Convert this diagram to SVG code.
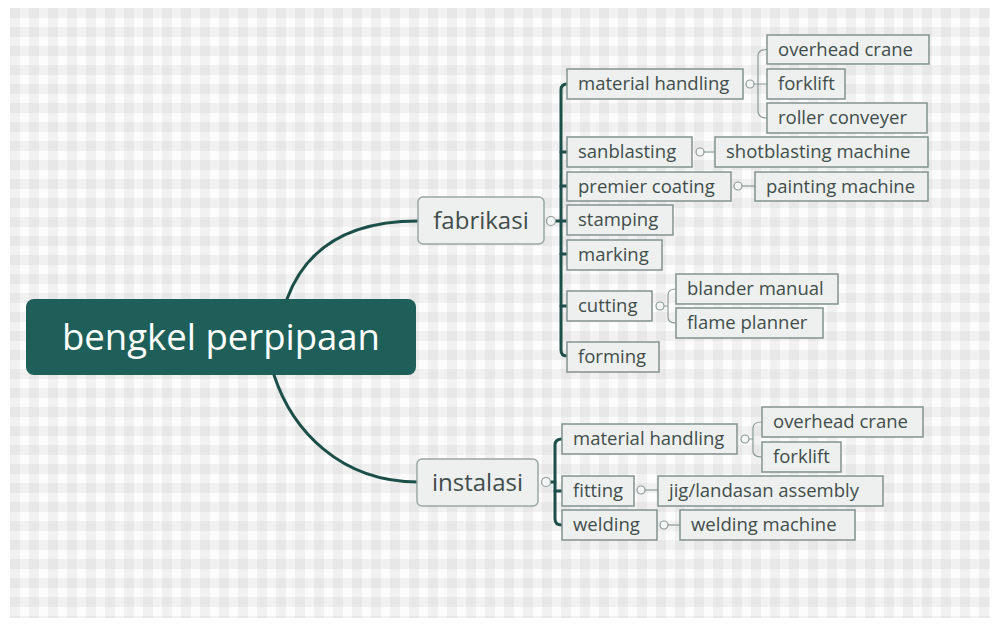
<svg xmlns="http://www.w3.org/2000/svg" width="998" height="625" viewBox="0 0 998 625">
<defs>
<pattern id="grid" x="10" y="8" width="19" height="19" patternUnits="userSpaceOnUse">
<rect width="19" height="19" fill="#fcfcfc"/>
<rect x="0" y="0" width="10" height="19" fill="#000" fill-opacity="0.045"/>
<rect x="0" y="0" width="19" height="10" fill="#000" fill-opacity="0.045"/>
</pattern>
<style>
.t{font-family:"Open Sans",Lato,"DejaVu Sans",sans-serif;fill:#414d4b;}
.c{font-size:18.5px;transform:translateY(-1.5px);}
.m{font-size:24px;transform:translateY(-1px);}
.box{fill:#eef0ef;stroke:#83928f;stroke-width:1.5;}
.mbox{fill:#eef0ef;stroke:#9aa7a4;stroke-width:1.5;}
.main{fill:none;stroke:#1d4f49;stroke-width:3;stroke-linecap:round;}
.thin{fill:none;stroke:#8d9b98;stroke-width:1.2;}
.dot{fill:#f4f5f5;stroke:#8d9b98;stroke-width:1.2;}
</style>
</defs>
<rect x="10" y="8" width="980" height="610" fill="url(#grid)"/>

<g id="connectors">
<path class="main" d="M287,299 C305,250 345,221 418,221"/>
<path class="main" d="M274,375 C292,430 340,482 418,482"/>
<path class="main" d="M567,84 Q561,84 561,90 L561,350 Q561,356 567,356"/>
<path class="main" d="M556,221 H567 M561,152 H567 M561,186 H567 M561,254 H567 M561,306 H567"/>
<path class="thin" d="M767,49.5 Q758,49.5 758,56 L758,111 Q758,118 767,118 M754,84 H767"/>
<path class="thin" d="M704,152 H715"/>
<path class="thin" d="M742,186 H755"/>
<path class="thin" d="M676,289 Q668,289 668,295 L668,317 Q668,323 676,323 M664,306 H668"/>
<path class="main" d="M562,439 Q555,439 555,445 L555,519 Q555,525 562,525"/>
<path class="main" d="M550,482 H555 M555,491 H562"/>
<path class="thin" d="M762,422 Q753,422 753,428 L753,451 Q753,457 762,457 M749,439 H753"/>
<path class="thin" d="M645,490 H658"/>
<path class="thin" d="M668,525 H680"/>
<circle class="dot" cx="551" cy="221" r="4.5"/>
<circle class="dot" cx="750" cy="84" r="4"/>
<circle class="dot" cx="700" cy="152" r="4"/>
<circle class="dot" cx="738" cy="186" r="4"/>
<circle class="dot" cx="660" cy="306" r="4"/>
<circle class="dot" cx="546" cy="482" r="4.5"/>
<circle class="dot" cx="745" cy="439" r="4"/>
<circle class="dot" cx="641" cy="490" r="4"/>
<circle class="dot" cx="664" cy="525" r="4"/>
</g>

<g id="root">
<rect x="26" y="299" width="390" height="76" rx="8" fill="#1f5f59"/>
<text x="221" y="335.5" text-anchor="middle" dominant-baseline="central" font-family="'Open Sans',Lato,sans-serif" font-size="36.5" fill="#ffffff">bengkel perpipaan</text>
</g>

<g id="fabrikasi">
<rect class="mbox" x="418" y="197" width="126" height="47" rx="5"/>
<text class="t m" x="481" y="220.5" text-anchor="middle" dominant-baseline="central">fabrikasi</text>
</g>
<g id="instalasi">
<rect class="mbox" x="417" y="459" width="121" height="47" rx="5"/>
<text class="t m" x="477.5" y="482.5" text-anchor="middle" dominant-baseline="central">instalasi</text>
</g>

<g id="f-material-handling"><rect class="box" x="567" y="69" width="176" height="30"/><text class="t c" x="578" y="84" dominant-baseline="central">material handling</text></g>
<g id="f-overhead-crane"><rect class="box" x="767" y="35" width="162" height="29"/><text class="t c" x="778" y="49.5" dominant-baseline="central">overhead crane</text></g>
<g id="f-forklift"><rect class="box" x="767" y="69" width="78" height="30"/><text class="t c" x="778" y="84" dominant-baseline="central">forklift</text></g>
<g id="f-roller-conveyer"><rect class="box" x="767" y="103" width="160" height="30"/><text class="t c" x="778" y="118" dominant-baseline="central">roller conveyer</text></g>
<g id="f-sanblasting"><rect class="box" x="567" y="137" width="125" height="30"/><text class="t c" x="578" y="152" dominant-baseline="central">sanblasting</text></g>
<g id="f-shotblasting"><rect class="box" x="715" y="137" width="213" height="30"/><text class="t c" x="726" y="152" dominant-baseline="central">shotblasting machine</text></g>
<g id="f-premier-coating"><rect class="box" x="567" y="172" width="164" height="29"/><text class="t c" x="578" y="186.5" dominant-baseline="central">premier coating</text></g>
<g id="f-painting"><rect class="box" x="755" y="172" width="173" height="29"/><text class="t c" x="766" y="186.5" dominant-baseline="central">painting machine</text></g>
<g id="f-stamping"><rect class="box" x="567" y="205" width="106" height="30"/><text class="t c" x="578" y="220" dominant-baseline="central">stamping</text></g>
<g id="f-marking"><rect class="box" x="567" y="240" width="95" height="30"/><text class="t c" x="578" y="255" dominant-baseline="central">marking</text></g>
<g id="f-cutting"><rect class="box" x="567" y="291" width="85" height="30"/><text class="t c" x="578" y="306" dominant-baseline="central">cutting</text></g>
<g id="f-blander"><rect class="box" x="676" y="274" width="162" height="30"/><text class="t c" x="687" y="289" dominant-baseline="central">blander manual</text></g>
<g id="f-flame"><rect class="box" x="676" y="308" width="147" height="30"/><text class="t c" x="687" y="323" dominant-baseline="central">flame planner</text></g>
<g id="f-forming"><rect class="box" x="567" y="342" width="92" height="30"/><text class="t c" x="578" y="357" dominant-baseline="central">forming</text></g>

<g id="i-material-handling"><rect class="box" x="562" y="424" width="175" height="30"/><text class="t c" x="573" y="439" dominant-baseline="central">material handling</text></g>
<g id="i-overhead-crane"><rect class="box" x="762" y="407" width="161" height="30"/><text class="t c" x="773" y="422" dominant-baseline="central">overhead crane</text></g>
<g id="i-forklift"><rect class="box" x="762" y="442" width="79" height="30"/><text class="t c" x="773" y="457" dominant-baseline="central">forklift</text></g>
<g id="i-fitting"><rect class="box" x="562" y="476" width="72" height="30"/><text class="t c" x="573" y="491" dominant-baseline="central">fitting</text></g>
<g id="i-jig"><rect class="box" x="658" y="476" width="225" height="30"/><text class="t c" x="669" y="491" dominant-baseline="central">jig/landasan assembly</text></g>
<g id="i-welding"><rect class="box" x="562" y="510" width="95" height="30"/><text class="t c" x="573" y="525" dominant-baseline="central">welding</text></g>
<g id="i-welding-machine"><rect class="box" x="680" y="510" width="175" height="30"/><text class="t c" x="691" y="525" dominant-baseline="central">welding machine</text></g>
</svg>
